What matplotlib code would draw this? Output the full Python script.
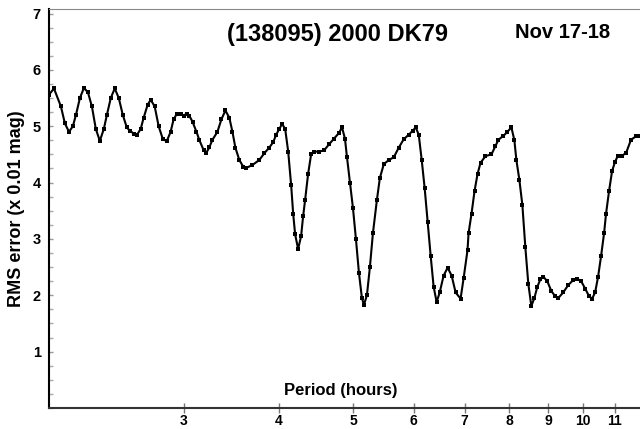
import matplotlib
matplotlib.use("Agg")
import matplotlib.pyplot as plt
from matplotlib.ticker import FixedLocator, NullLocator, MultipleLocator

plt.rcParams['font.family'] = ['Liberation Sans', 'DejaVu Sans']

# period (hours) and RMS error (x 0.01 mag)
period = [2.000, 2.030, 2.073, 2.098, 2.124, 2.149, 2.169, 2.195, 2.222, 2.249,
          2.276, 2.303, 2.331, 2.359, 2.381, 2.409, 2.438, 2.468, 2.498, 2.528,
          2.551, 2.582, 2.605, 2.636, 2.660, 2.692, 2.717, 2.750, 2.783, 2.817,
          2.851, 2.885, 2.911, 2.937, 2.973, 3.000, 3.027, 3.054, 3.082, 3.119,
          3.147, 3.186, 3.214, 3.243, 3.273, 3.322, 3.362, 3.403, 3.444, 3.476,
          3.507, 3.549, 3.592, 3.624, 3.690, 3.769, 3.826, 3.884, 3.931, 3.966,
          4.002, 4.038, 4.075, 4.112, 4.149, 4.174, 4.199, 4.237, 4.275, 4.301,
          4.327, 4.366, 4.406, 4.445, 4.513, 4.581, 4.651, 4.721, 4.792, 4.836,
          4.879, 4.909, 4.953, 4.998, 5.043, 5.089, 5.135, 5.166, 5.213, 5.260,
          5.308, 5.372, 5.420, 5.486, 5.569, 5.653, 5.738, 5.825, 5.914, 5.985,
          6.039, 6.094, 6.149, 6.204, 6.261, 6.317, 6.374, 6.432, 6.491, 6.569,
          6.648, 6.729, 6.810, 6.913, 6.976, 7.059, 7.081, 7.145, 7.210, 7.275,
          7.341, 7.452, 7.587, 7.680, 7.749, 7.866, 7.961, 8.057, 8.130, 8.179,
          8.253, 8.328, 8.403, 8.479, 8.556, 8.634, 8.712, 8.790, 8.870, 8.977,
          9.085, 9.195, 9.278, 9.419, 9.561, 9.706, 9.823, 9.942, 10.062, 10.184,
          10.276, 10.369, 10.463, 10.558, 10.653, 10.717, 10.814, 10.912, 11.011, 11.111,
          11.245, 11.380, 11.553, 11.728, 11.834]
rms = [5.56, 5.67, 5.35, 5.05, 4.90, 5.00, 5.20, 5.50, 5.68, 5.60,
       5.35, 4.95, 4.74, 4.95, 5.20, 5.50, 5.67, 5.50, 5.20, 4.98,
       4.92, 4.87, 4.84, 4.95, 5.15, 5.38, 5.47, 5.35, 5.00, 4.78,
       4.73, 4.90, 5.12, 5.21, 5.22, 5.19, 5.22, 5.18, 5.08, 4.90,
       4.75, 4.58, 4.53, 4.63, 4.76, 4.90, 5.12, 5.28, 5.15, 4.90,
       4.62, 4.40, 4.28, 4.26, 4.31, 4.40, 4.52, 4.62, 4.72, 4.85,
       4.95, 5.04, 4.95, 4.55, 3.95, 3.45, 3.08, 2.82, 3.05, 3.40,
       3.69, 4.15, 4.50, 4.55, 4.55, 4.57, 4.68, 4.78, 4.88, 4.98,
       4.78, 4.45, 4.00, 3.55, 3.00, 2.40, 1.95, 1.83, 2.00, 2.50,
       3.10, 3.69, 4.08, 4.33, 4.40, 4.45, 4.62, 4.77, 4.85, 4.92,
       4.98, 4.85, 4.40, 3.90, 3.30, 2.70, 2.15, 1.88, 2.05, 2.35,
       2.49, 2.35, 2.05, 1.94, 2.30, 2.80, 3.10, 3.45, 3.85, 4.15,
       4.35, 4.47, 4.50, 4.65, 4.76, 4.83, 4.90, 4.98, 4.75, 4.40,
       4.05, 3.60, 2.85, 2.20, 1.81, 1.95, 2.15, 2.28, 2.33, 2.25,
       2.08, 1.98, 1.95, 2.05, 2.18, 2.27, 2.29, 2.25, 2.12, 1.98,
       1.94, 2.05, 2.33, 2.70, 3.10, 3.45, 3.85, 4.20, 4.37, 4.48,
       4.48, 4.52, 4.76, 4.82, 4.82]

xticks = [3, 4, 5, 6, 7, 8, 9, 10, 11]
yticks = [1, 2, 3, 4, 5, 6, 7]

fig = plt.figure(figsize=(6.4, 4.29), dpi=100)
ax = fig.add_axes([0.0766, 0.049, 0.929, 0.93])

ax.plot(period, rms, color='black', linewidth=1.5,
        marker='s', markersize=2.4, markeredgewidth=0)

ax.set_xscale('log')
ax.set_xlim(2, 12)
ax.set_ylim(0, 7.08)

ax.xaxis.set_major_locator(FixedLocator(xticks))
ax.xaxis.set_minor_locator(NullLocator())
ax.set_xticklabels([str(t) for t in xticks])
ax.set_yticks(yticks)
ax.yaxis.set_minor_locator(MultipleLocator(0.25))

ax.tick_params(axis='x', which='major', direction='inout', length=7,
               width=1, color='#777777', labelsize=10, pad=0.5)
ax.tick_params(axis='y', which='major', direction='in', length=3,
               width=1, color='#999999', labelsize=10.5, pad=6)
ax.tick_params(axis='y', which='minor', direction='in', length=3,
               width=1, color='#aaaaaa')
for lab in ax.get_xticklabels() + ax.get_yticklabels():
    lab.set_fontweight('bold')

ax.spines['right'].set_visible(False)
ax.spines['top'].set_color('#888888')
ax.spines['left'].set_linewidth(1.5)
ax.spines['bottom'].set_linewidth(1.5)
ax.spines['bottom'].set_color('#333333')

ax.set_ylabel("RMS error (x 0.01 mag)", fontsize=13, fontweight='bold', labelpad=5)
ax.set_xlabel("Period (hours)", fontsize=12, fontweight='bold')
ax.xaxis.set_label_coords(0.49, 0.045)
ax.xaxis.label.set_va('center')

ax.text(0.486, 0.935, "(138095) 2000 DK79", transform=ax.transAxes,
        ha='center', va='center', fontsize=17, fontweight='bold')
ax.text(0.864, 0.94, "Nov 17-18", transform=ax.transAxes,
        ha='center', va='center', fontsize=14.5, fontweight='bold')

fig.savefig("out.png", dpi=100)
